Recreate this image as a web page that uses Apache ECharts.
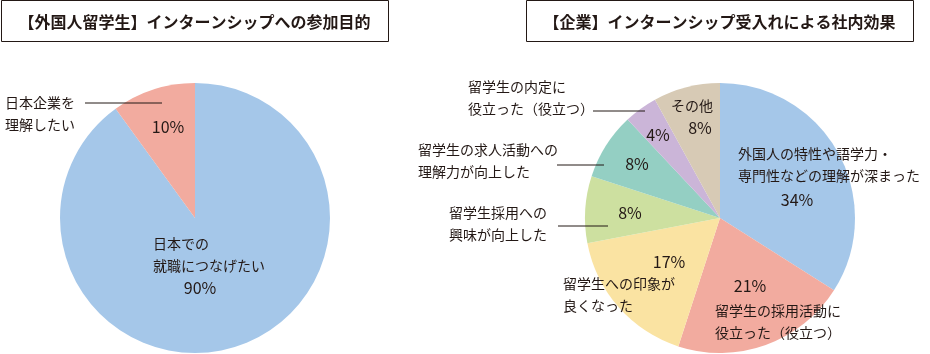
<!DOCTYPE html>
<html>
<head>
<meta charset="utf-8">
<script src="https://cdn.jsdelivr.net/npm/echarts@6/dist/echarts.min.js"></script>
<style>
  html, body { margin: 0; padding: 0; background: #fff; }
  #chart { width: 930px; height: 354px; }
</style>
</head>
<body>
<div id="chart"></div>
<script>
  // データ
  var leftTitle = '【外国人留学生】インターンシップへの参加目的';
  var leftNames = ['日本での\n就職につなげたい', '日本企業を\n理解したい'];
  var leftValues = [90, 10];

  var rightTitle = '【企業】インターンシップ受入れによる社内効果';
  var rightNames = [
    '外国人の特性や語学力・\n専門性などの理解が深まった',
    '留学生の採用活動に\n役立った（役立つ）',
    '留学生への印象が\n良くなった',
    '留学生採用への\n興味が向上した',
    '留学生の求人活動への\n理解力が向上した',
    '留学生の内定に\n役立った（役立つ）',
    'その他'
  ];
  var rightValues = [34, 21, 17, 8, 8, 4, 8];

  var leftColors = ['#a5c7e9', '#f2ab9f'];
  var rightColors = ['#a5c7e9', '#f2ab9f', '#fae3a2', '#cde0a0', '#94cfc3', '#cbb5d8', '#d7cab5'];

  var textColor = '#231815';
  var font = '"Noto Sans CJK JP", "Noto Sans", sans-serif';

  // ラベル位置 [x, y, align, 引き出し線]
  var leftPctPos = [[200, 288, 'center'], [168, 127, 'center']];
  var leftNamePos = [
    [153, 255, 'left'],
    [5, 114, 'left', [[85, 103], [120, 103], [162, 103]]]
  ];
  var rightPctPos = [
    [797, 200, 'center'], [750, 286, 'center'], [669, 262, 'center'],
    [630, 213, 'center'], [637, 164, 'center'], [658, 135, 'center'], [700, 128, 'center']
  ];
  var rightNamePos = [
    [738, 165, 'left'],
    [715, 322, 'left'],
    [563, 295, 'left'],
    [449, 224, 'left', [[558, 226], [580, 226], [608, 226]]],
    [418, 161, 'left', [[557, 165], [580, 165], [604, 165]]],
    [468, 98, 'left', [[593, 111], [620, 111], [645, 111]]],
    [692, 106, 'center']
  ];

  function makeLayout(pos) {
    return function (params) {
      var p = pos[params.dataIndex];
      var res = { x: p[0], y: p[1], align: p[2], verticalAlign: 'middle' };
      if (p[3]) res.labelLinePoints = p[3];
      return res;
    };
  }

  function pctSeries(names, values, colors, center, pos) {
    return {
      type: 'pie',
      center: center,
      radius: 135,
      startAngle: 90,
      clockwise: true,
      avoidLabelOverlap: false,
      silent: true,
      data: values.map(function (v, i) {
        return { name: names[i], value: v, itemStyle: { color: colors[i] } };
      }),
      itemStyle: { borderWidth: 0 },
      label: {
        show: true,
        position: 'inside',
        formatter: '{c}%',
        color: textColor,
        fontSize: 16,
        fontFamily: font
      },
      labelLine: { show: false },
      labelLayout: makeLayout(pos)
    };
  }

  function nameSeries(names, values, center, pos) {
    return {
      type: 'pie',
      center: center,
      radius: 135,
      startAngle: 90,
      clockwise: true,
      avoidLabelOverlap: false,
      silent: true,
      z: 3,
      data: values.map(function (v, i) {
        return {
          name: names[i],
          value: v,
          labelLine: { show: !!pos[i][3] }
        };
      }),
      itemStyle: { color: 'rgba(0,0,0,0)', borderWidth: 0 },
      label: {
        show: true,
        position: 'outside',
        formatter: '{b}',
        color: textColor,
        fontSize: 14,
        lineHeight: 22,
        fontFamily: font
      },
      labelLine: {
        show: true,
        lineStyle: { color: textColor, width: 1 }
      },
      labelLayout: makeLayout(pos)
    };
  }

  function titleBox(x, w, text) {
    return {
      type: 'group',
      children: [
        {
          type: 'rect',
          shape: { x: x + 0.5, y: 0.5, width: w, height: 41 },
          style: { fill: '#fff', stroke: textColor, lineWidth: 1 }
        },
        {
          type: 'text',
          x: x + w / 2,
          y: 22,
          style: {
            text: text,
            fill: textColor,
            font: 'bold 16px ' + font,
            textAlign: 'center',
            textVerticalAlign: 'middle'
          }
        }
      ]
    };
  }

  var myChart = echarts.init(document.getElementById('chart'), null, { renderer: 'canvas' });
  var option = {
    animation: false,
    backgroundColor: '#fff',
    graphic: [
      titleBox(1, 387, leftTitle),
      titleBox(526, 387, rightTitle)
    ],
    series: [
      pctSeries(leftNames, leftValues, leftColors, [195, 218], leftPctPos),
      nameSeries(leftNames, leftValues, [195, 218], leftNamePos),
      pctSeries(rightNames, rightValues, rightColors, [720, 218], rightPctPos),
      nameSeries(rightNames, rightValues, [720, 218], rightNamePos)
    ]
  };
  myChart.setOption(option);
</script>
</body>
</html>
